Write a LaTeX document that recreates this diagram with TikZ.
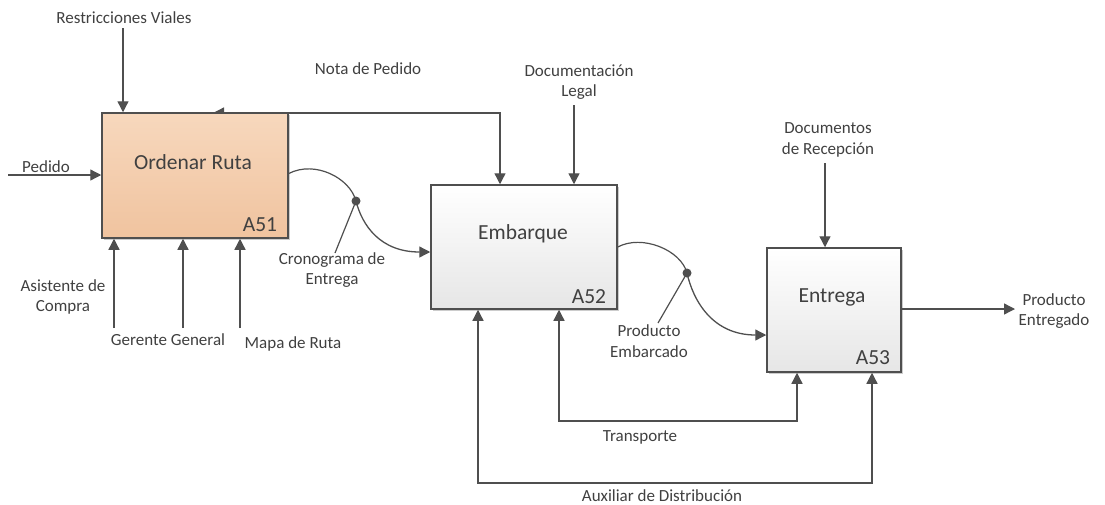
\documentclass[tikz,border=0pt]{standalone}
\usepackage{fontspec}
\setmainfont{Carlito}
\usetikzlibrary{arrows.meta,shadows}
\pgfdeclarelayer{background}
\pgfsetlayers{background,main}
\definecolor{ln}{HTML}{4F4F4F}
\definecolor{tx}{HTML}{404040}
\definecolor{orTop}{HTML}{F7D8BD}
\definecolor{orBot}{HTML}{F0C39F}
\definecolor{grBot}{HTML}{E6E6E6}
\tikzset{
  lbl/.style={text=tx, font=\fontsize{17}{20.5}\selectfont, align=center, inner sep=0pt},
  boxlbl/.style={text=tx, font=\fontsize{21.5}{24}\selectfont, inner sep=0pt},
  proc/.style={draw=ln, line width=1.5pt, inner sep=0pt, rectangle,
    drop shadow={shadow xshift=2pt, shadow yshift=-2pt, opacity=0.2, fill=black}},
  orbox/.style={proc, top color=orTop, bottom color=orBot},
  grbox/.style={proc, top color=white, bottom color=grBot},
  conn/.style={draw=ln, line width=1.3pt, -{Triangle[length=11pt,width=11pt]}},
  dconn/.style={draw=ln, line width=1.3pt, {Triangle[length=11pt,width=11pt]}-{Triangle[length=11pt,width=11pt]}},
  plain/.style={draw=ln, line width=1.2pt},
  junct/.style={circle, fill=ln, inner sep=0pt, minimum size=9pt}
}
\begin{document}
\begin{tikzpicture}[x=1pt,y=-1pt]
\useasboundingbox (0,0) rectangle (1105,504);
% boxes
\node[orbox, minimum width=186pt, minimum height=125pt] (A51) at (195,175.5) {};
\node[grbox, minimum width=186pt, minimum height=124pt] (A52) at (524,247) {};
\node[grbox, minimum width=134pt, minimum height=124pt] (A53) at (834,310) {};
% box texts
\node[boxlbl] (t51) at (193,162) {Ordenar Ruta};
\node[boxlbl] (n51) at (260,225) {A51};
\node[boxlbl] (t52) at (523,234) {Embarque};
\node[boxlbl] (n52) at (589,297) {A52};
\node[boxlbl] (t53) at (832,297) {Entrega};
\node[boxlbl] (n53) at (873,358) {A53};
% labels
\node[lbl] (lRV) at (124,18) {Restricciones Viales};
\node[lbl] (lNP) at (368,69) {Nota de Pedido};
\node[lbl] (lDL) at (579,82) {Documentación\\Legal};
\node[lbl] (lPd) at (46,167) {Pedido};
\node[lbl] (lAC) at (63,297) {Asistente de\\Compra};
\node[lbl] (lGG) at (168,340) {Gerente General};
\node[lbl] (lMR) at (293,344) {Mapa de Ruta};
\node[lbl] (lCE) at (332,270) {Cronograma de\\Entrega};
\node[lbl] (lPE) at (649,341) {Producto\\Embarcado};
\node[lbl] (lDR) at (828,140) {Documentos\\de Recepción};
\node[lbl] (lPEn) at (1054,311) {Producto\\Entregado};
\node[lbl] (lTr) at (640,437) {Transporte};
\node[lbl] (lAD) at (662,496) {Auxiliar de Distribución};
% free-end coordinates
\coordinate (rv) at (123,28);
\coordinate (np) at (213,113);
\coordinate (npc) at (500,113);
\coordinate (dl) at (574,105);
\coordinate (pd) at (8,175);
\coordinate (ac) at (114,328);
\coordinate (gg) at (183,328);
\coordinate (mr) at (240,328);
\coordinate (dr) at (825,163);
\coordinate (pe) at (1015,309);
\coordinate (tr1) at (559,421);
\coordinate (tr2) at (797,421);
\coordinate (ax1) at (478,483);
\coordinate (ax2) at (872,483);
\coordinate (ceL) at (335,253);
\coordinate (peL) at (658,323);
% junction dots
\node[junct] (d1) at (356,201) {};
\node[junct] (d2) at (687,273) {};
% connectors
\draw[conn] (rv) -- (rv |- A51.north);
\begin{pgfonlayer}{background}
\draw[dconn] (np) -- (npc) -- (npc |- A52.north);
\end{pgfonlayer}
\draw[conn] (dl) -- (dl |- A52.north);
\draw[conn] (pd) -- (pd -| A51.west);
\draw[conn] (ac) -- (ac |- A51.south);
\draw[conn] (gg) -- (gg |- A51.south);
\draw[conn] (mr) -- (mr |- A51.south);
\draw[conn] (dr) -- (dr |- A53.north);
\draw[conn] ([yshift=1pt]A53.east) -- (pe);
\draw[plain] ([yshift=2pt]A51.east) .. controls (315,160) and (350,178) .. (d1.center);
\draw[conn] (d1.center) .. controls (362,225) and (380,252) .. ([yshift=-5pt]A52.west);
\draw[plain] (d1.center) -- (ceL);
\draw[plain] (A52.east) .. controls (642,234) and (681,250) .. (d2.center);
\draw[conn] (d2.center) .. controls (693,300) and (712,335) .. ([yshift=-25pt]A53.west);
\draw[plain] (d2.center) -- (peL);
\draw[dconn] (tr1 |- A52.south) -- (tr1) -- (tr2) -- (tr2 |- A53.south);
\draw[dconn] (ax1 |- A52.south) -- (ax1) -- (ax2) -- (ax2 |- A53.south);
\end{tikzpicture}
\end{document}
